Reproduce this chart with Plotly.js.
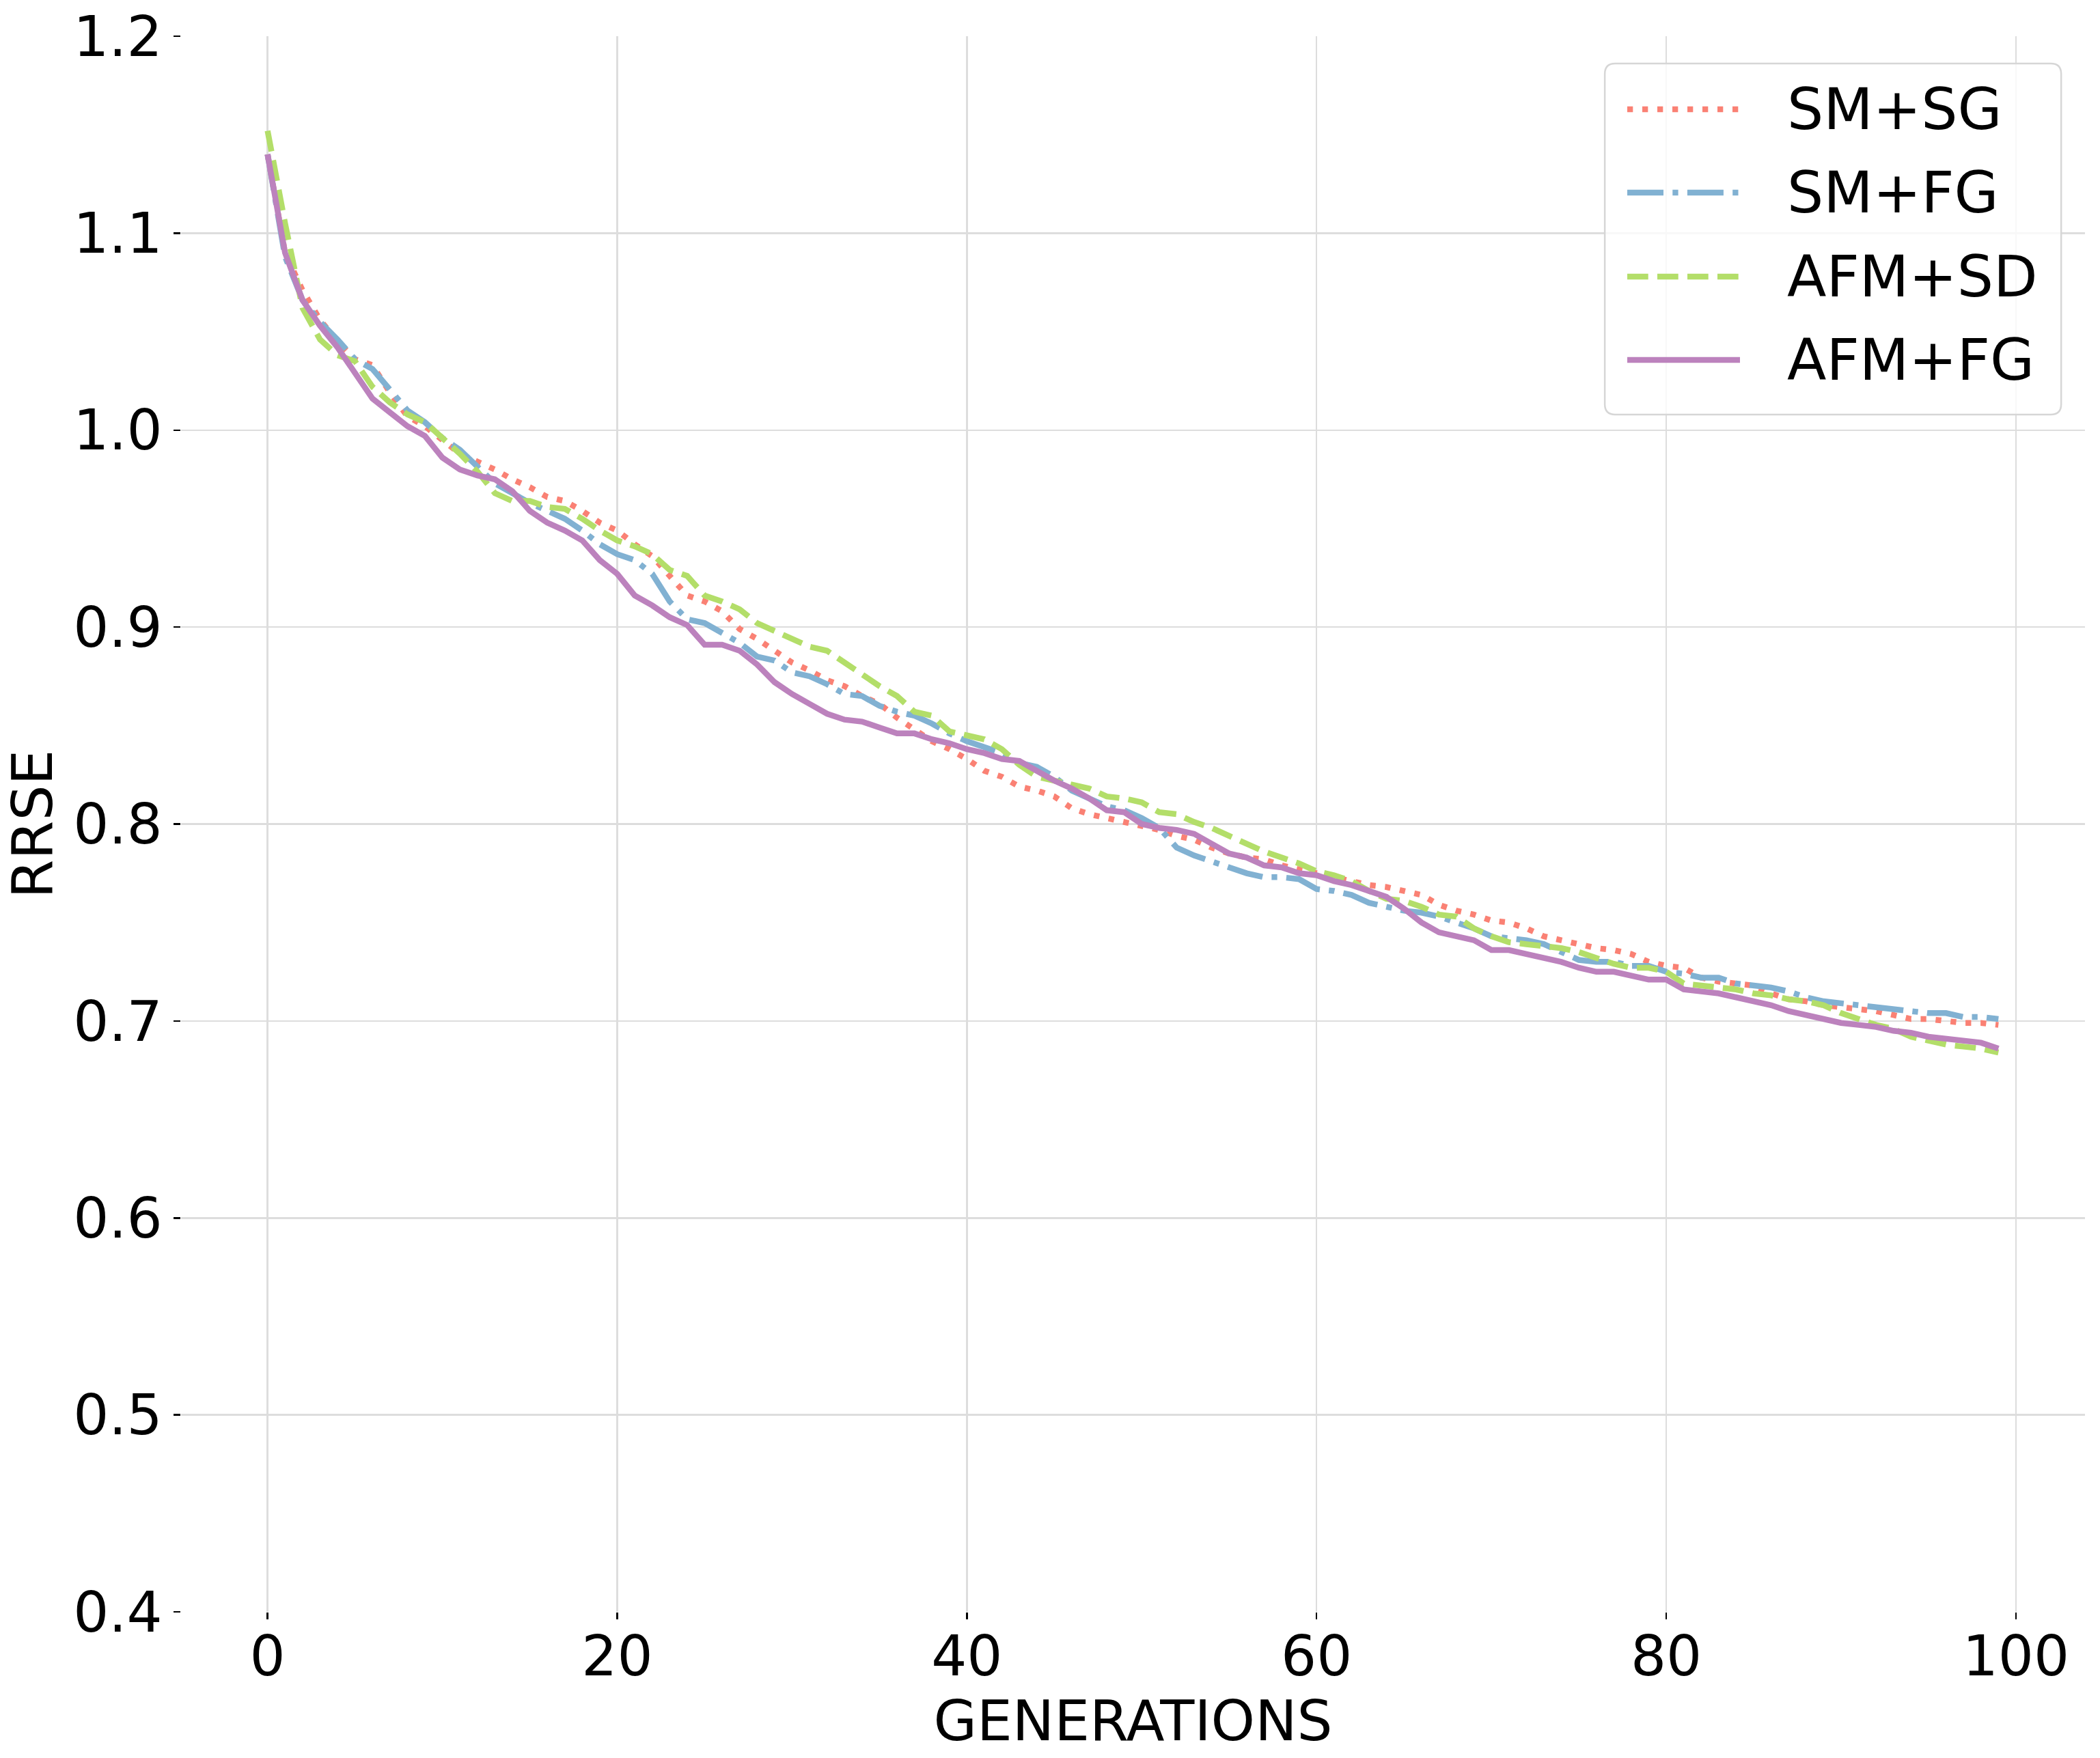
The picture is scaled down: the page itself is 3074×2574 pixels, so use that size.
<!DOCTYPE html>
<html>
<head>
<meta charset="utf-8">
<script src="https://cdn.plot.ly/plotly-3.0.1.min.js"></script>
<style>
  html, body { margin: 0; padding: 0; background: #ffffff; }
  #graph { width: 3074px; height: 2574px; }
</style>
</head>
<body>
<div id="graph"></div>
<script>
/* ----------------Data---------------- */

var generations = [
    0, 1, 2, 3, 4, 5, 6, 7, 8, 9,
    10, 11, 12, 13, 14, 15, 16, 17, 18, 19,
    20, 21, 22, 23, 24, 25, 26, 27, 28, 29,
    30, 31, 32, 33, 34, 35, 36, 37, 38, 39,
    40, 41, 42, 43, 44, 45, 46, 47, 48, 49,
    50, 51, 52, 53, 54, 55, 56, 57, 58, 59,
    60, 61, 62, 63, 64, 65, 66, 67, 68, 69,
    70, 71, 72, 73, 74, 75, 76, 77, 78, 79,
    80, 81, 82, 83, 84, 85, 86, 87, 88, 89,
    90, 91, 92, 93, 94, 95, 96, 97, 98, 99
];

var seriesNames = ['SM+SG', 'SM+FG', 'AFM+SD', 'AFM+FG'];

var smSG = [
    1.140, 1.090, 1.071, 1.056, 1.045, 1.036, 1.033, 1.019, 1.007, 1.002,
    0.995, 0.988, 0.984, 0.980, 0.975, 0.971, 0.966, 0.964, 0.959, 0.953,
    0.949, 0.942, 0.936, 0.926, 0.916, 0.913, 0.908, 0.899, 0.894, 0.888,
    0.882, 0.878, 0.873, 0.870, 0.865, 0.861, 0.854, 0.848, 0.842, 0.838,
    0.833, 0.827, 0.824, 0.819, 0.817, 0.814, 0.808, 0.805, 0.803, 0.801,
    0.799, 0.797, 0.794, 0.792, 0.788, 0.785, 0.783, 0.782, 0.779, 0.777,
    0.775, 0.773, 0.771, 0.769, 0.768, 0.766, 0.764, 0.759, 0.756, 0.754,
    0.751, 0.750, 0.747, 0.743, 0.741, 0.739, 0.737, 0.736, 0.734, 0.730,
    0.728, 0.727, 0.722, 0.720, 0.719, 0.718, 0.714, 0.711, 0.710, 0.708,
    0.707, 0.706, 0.705, 0.703, 0.701, 0.701, 0.700, 0.699, 0.699, 0.698
];

var smFG = [
    1.140, 1.088, 1.066, 1.055, 1.046, 1.036, 1.031, 1.021, 1.010, 1.004,
    0.996, 0.990, 0.981, 0.973, 0.968, 0.963, 0.959, 0.955, 0.949, 0.942,
    0.937, 0.934, 0.927, 0.913, 0.904, 0.902, 0.897, 0.892, 0.885, 0.883,
    0.877, 0.875, 0.871, 0.866, 0.865, 0.860, 0.857, 0.855, 0.851, 0.846,
    0.842, 0.839, 0.836, 0.831, 0.829, 0.824, 0.817, 0.813, 0.809, 0.807,
    0.803, 0.798, 0.788, 0.784, 0.781, 0.778, 0.775, 0.773, 0.773, 0.772,
    0.767, 0.766, 0.764, 0.760, 0.758, 0.756, 0.755, 0.753, 0.750, 0.747,
    0.743, 0.742, 0.741, 0.739, 0.735, 0.731, 0.730, 0.730, 0.728, 0.728,
    0.725, 0.724, 0.722, 0.722, 0.719, 0.718, 0.717, 0.715, 0.712, 0.710,
    0.709, 0.708, 0.707, 0.706, 0.705, 0.704, 0.704, 0.702, 0.702, 0.701
];

var afmSD = [
    1.152, 1.105, 1.062, 1.046, 1.038, 1.035, 1.022, 1.014, 1.008, 1.004,
    0.996, 0.988, 0.979, 0.968, 0.964, 0.964, 0.961, 0.960, 0.955, 0.949,
    0.944, 0.941, 0.937, 0.929, 0.926, 0.916, 0.913, 0.909, 0.902, 0.898,
    0.894, 0.890, 0.888, 0.882, 0.876, 0.870, 0.865, 0.857, 0.855, 0.847,
    0.845, 0.843, 0.838, 0.830, 0.824, 0.822, 0.820, 0.818, 0.814, 0.813,
    0.811, 0.806, 0.805, 0.801, 0.798, 0.794, 0.790, 0.786, 0.783, 0.780,
    0.776, 0.774, 0.771, 0.766, 0.762, 0.761, 0.758, 0.754, 0.753, 0.747,
    0.743, 0.740, 0.739, 0.738, 0.737, 0.735, 0.732, 0.729, 0.727, 0.727,
    0.725, 0.719, 0.718, 0.717, 0.716, 0.714, 0.713, 0.711, 0.710, 0.708,
    0.704, 0.701, 0.698, 0.696, 0.692, 0.690, 0.688, 0.687, 0.686, 0.684
];

var afmFG = [
    1.140, 1.090, 1.066, 1.053, 1.042, 1.029, 1.016, 1.009, 1.002, 0.997,
    0.986, 0.980, 0.977, 0.975, 0.969, 0.959, 0.953, 0.949, 0.944, 0.934,
    0.927, 0.916, 0.911, 0.905, 0.901, 0.891, 0.891, 0.888, 0.881, 0.872,
    0.866, 0.861, 0.856, 0.853, 0.852, 0.849, 0.846, 0.846, 0.843, 0.841,
    0.838, 0.836, 0.833, 0.832, 0.827, 0.822, 0.818, 0.813, 0.807, 0.806,
    0.800, 0.798, 0.797, 0.795, 0.790, 0.785, 0.783, 0.779, 0.778, 0.775,
    0.774, 0.771, 0.769, 0.766, 0.763, 0.757, 0.750, 0.745, 0.743, 0.741,
    0.736, 0.736, 0.734, 0.732, 0.730, 0.727, 0.725, 0.725, 0.723, 0.721,
    0.721, 0.716, 0.715, 0.714, 0.712, 0.710, 0.708, 0.705, 0.703, 0.701,
    0.699, 0.698, 0.697, 0.695, 0.694, 0.692, 0.691, 0.690, 0.689, 0.686
];

var xTicks = [0, 20, 40, 60, 80, 100];
var yTicks = [0.4, 0.5, 0.6, 0.7, 0.8, 0.9, 1.0, 1.1, 1.2];

/* ----------------Styles---------------- */

var seriesValues = [smSG, smFG, afmSD, afmFG];
var seriesColors = ['#fa8174', '#81b1d2', '#b3de69', '#bc82bd'];
var seriesDash = ['8.3px,13.7px', '53px,13.3px,8.3px,13.3px', '30.7px,13.3px', 'solid'];
var lineWidth = 8.5;
var fontFamily = '"DejaVu Sans", "Liberation Sans", sans-serif';

/* ----------------Traces---------------- */

var data = [];
for (var i = 0; i < seriesNames.length; i++) {
    data.push({
        x: generations,
        y: seriesValues[i],
        name: seriesNames[i],
        type: 'scatter',
        mode: 'lines',
        line: {
            color: seriesColors[i],
            width: lineWidth,
            dash: seriesDash[i]
        },
        showlegend: false
    });
}

/* ----------------Hand-drawn legend (matplotlib style, long keys)---------------- */

var legendBox = {x0: 0.7478, x1: 0.9875, y0: 0.7599, y1: 0.9827, rx: 0.0055, ry: 0.0066};
var legendRows = [0.9536, 0.9007, 0.8474, 0.7945];
var keyX0 = 0.7596, keyX1 = 0.8188, labelX = 0.8428;

function roundedRect(b) {
    return 'M' + (b.x0 + b.rx) + ',' + b.y1 +
        ' L' + (b.x1 - b.rx) + ',' + b.y1 +
        ' Q' + b.x1 + ',' + b.y1 + ' ' + b.x1 + ',' + (b.y1 - b.ry) +
        ' L' + b.x1 + ',' + (b.y0 + b.ry) +
        ' Q' + b.x1 + ',' + b.y0 + ' ' + (b.x1 - b.rx) + ',' + b.y0 +
        ' L' + (b.x0 + b.rx) + ',' + b.y0 +
        ' Q' + b.x0 + ',' + b.y0 + ' ' + b.x0 + ',' + (b.y0 + b.ry) +
        ' L' + b.x0 + ',' + (b.y1 - b.ry) +
        ' Q' + b.x0 + ',' + b.y1 + ' ' + (b.x0 + b.rx) + ',' + b.y1 + ' Z';
}

var shapes = [{
    type: 'path',
    xref: 'paper',
    yref: 'paper',
    path: roundedRect(legendBox),
    fillcolor: 'rgba(255,255,255,0.8)',
    line: {color: '#d6d6d6', width: 2.5},
    layer: 'above'
}];
var annotations = [];

for (var k = 0; k < seriesNames.length; k++) {
    shapes.push({
        type: 'line',
        xref: 'paper',
        yref: 'paper',
        x0: keyX0,
        x1: keyX1,
        y0: legendRows[k],
        y1: legendRows[k],
        line: {color: seriesColors[k], width: lineWidth, dash: seriesDash[k]},
        layer: 'above'
    });
    annotations.push({
        xref: 'paper',
        yref: 'paper',
        x: labelX,
        y: legendRows[k],
        xanchor: 'left',
        yanchor: 'middle',
        text: seriesNames[k],
        showarrow: false,
        font: {family: fontFamily, size: 84, color: '#000000'}
    });
}

/* ----------------Layout---------------- */

var layout = {
    width: 3074,
    height: 2574,
    paper_bgcolor: '#ffffff',
    plot_bgcolor: '#ffffff',
    font: {family: fontFamily, size: 82, color: '#000000'},
    showlegend: false,
    margin: {l: 265, r: 22, t: 53, b: 214},
    xaxis: {
        range: [-4.95, 103.95],
        tickvals: xTicks,
        ticktext: xTicks.map(String),
        ticks: 'outside',
        ticklen: 10,
        tickwidth: 2.5,
        tickcolor: '#000000',
        ticklabelstandoff: -16,
        showline: false,
        zeroline: false,
        showgrid: true,
        gridcolor: '#dddddd',
        gridwidth: 2.5,
        tickfont: {family: fontFamily, size: 82, color: '#000000'},
        title: {
            text: 'GENERATIONS',
            standoff: 16,
            font: {family: fontFamily, size: 82, color: '#000000'}
        }
    },
    yaxis: {
        range: [0.4, 1.2],
        tickvals: yTicks,
        ticktext: yTicks.map(function (v) { return v.toFixed(1); }),
        ticks: 'outside',
        ticklen: 10,
        tickwidth: 2.5,
        tickcolor: '#000000',
        showline: false,
        zeroline: false,
        showgrid: true,
        gridcolor: '#dddddd',
        gridwidth: 2.5,
        tickfont: {family: fontFamily, size: 82, color: '#000000'},
        title: {
            text: 'RRSE',
            standoff: 22,
            font: {family: fontFamily, size: 82, color: '#000000'}
        }
    },
    shapes: shapes,
    annotations: annotations
};

var graph = document.getElementById('graph');
Plotly.newPlot(graph, data, layout, {staticPlot: true, displayModeBar: false});
</script>
</body>
</html>
